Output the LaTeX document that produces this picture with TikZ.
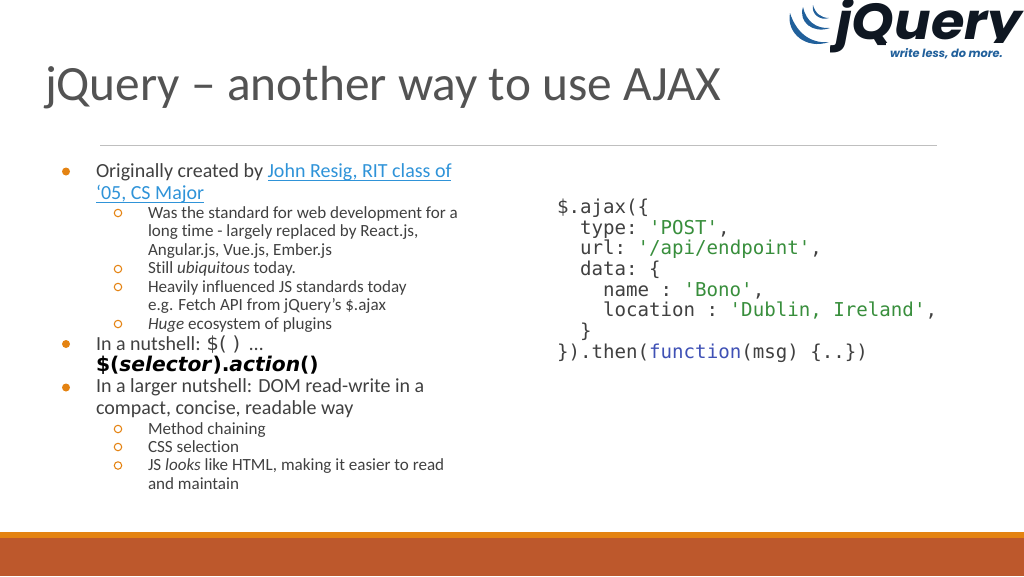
\documentclass[tikz,border=0pt]{standalone}
\usepackage{fontspec}
\setmainfont[Ligatures=NoCommon]{Carlito}
\setmonofont{DejaVu Sans Mono}
\newfontfamily\boldcode{DejaVu Sans}
\newfontfamily\logofont{Poppins}
\definecolor{accent}{HTML}{E48312}
\definecolor{footer}{HTML}{BD582C}
\definecolor{bodytext}{HTML}{404040}
\definecolor{linktext}{HTML}{2F93D8}
\definecolor{strgreen}{HTML}{388E3C}
\definecolor{keyblue}{HTML}{3F51B5}
\definecolor{logodark}{HTML}{0F1722}
\definecolor{logoblue}{HTML}{21609B}
\newcommand{\strval}[1]{\textcolor{strgreen}{#1}}
\tikzset{
    every node/.style={inner sep=0pt, outer sep=0pt, anchor=base west},
    toptext/.style={text=bodytext, font=\fontsize{15pt}{16pt}\selectfont},
    subtext/.style={text=bodytext, font=\fontsize{12.8pt}{14pt}\selectfont},
    codetext/.style={text=bodytext, font=\fontsize{14.35pt}{16pt}\ttfamily},
    topdot/.style={circle, fill=accent, minimum size=6pt, anchor=center},
    subdot/.style={circle, draw=accent, line width=0.8pt, minimum size=5.6pt, anchor=center}
}

\begin{document}
\begin{tikzpicture}[x=0.75pt,y=-0.75pt]
    \useasboundingbox (0,0) rectangle (1024,576);

    % footer bands
    \fill[footer] (0,538) rectangle (1024,576);
    \fill[accent] (0,532) rectangle (1024,538);

    % title and rule
    \node[text=bodytext!90, font=\fontsize{37pt}{40pt}\selectfont] (title) at (45,100) {jQuery – another way to use AJAX};
    \draw[color=black!25, line width=0.8pt] (100,145.5) -- (937,145.5);

    % logo
    \fill[logoblue] (790,13) .. controls (786,33) and (806,50) .. (829,42) .. controls (810,44) and (796,32) .. (790,13) -- cycle;
    \fill[logoblue] (803,7) .. controls (798,22) and (813,34) .. (830,28) .. controls (816,29) and (806,21) .. (803,7) -- cycle;
    \fill[logoblue] (813,5) .. controls (811,14) and (820,21) .. (829,18) .. controls (821,18) and (815,13) .. (813,5) -- cycle;
    \begin{scope}
        \clip (830,0) -- (1024,0) -- (1024,42) -- (885,42) -- (885,60) -- (830,60) -- cycle;
        \node[text=logodark, font=\fontsize{38pt}{40pt}\logofont\bfseries\itshape] (logo) at (836,39) {\scalebox{1.07}[1]{jQuery}};
    \end{scope}
    \node[text=logoblue, font=\fontsize{8.5pt}{9pt}\logofont\bfseries\itshape] (slogan) at (890,57) {write less, do more.};

    % left column, top level
    \node[toptext] (l1) at (96,177) {Originally created by \textcolor{linktext}{John Resig, RIT class of}};
    \node[toptext, text=linktext] (l2) at (96,199) {‘05, CS Major};
    \node[toptext] (l3) at (96,350) {In a nutshell: {\fontsize{14.5pt}{16pt}\boldcode\$( )}\ \ …};
    \node[text=black, font=\fontsize{15.2pt}{16pt}\boldcode\bfseries] (l4) at (96,371) {\$(\textit{selector}).\textit{action}()};
    \node[toptext] (l5) at (96,392) {In a larger nutshell: DOM read-write in a};
    \node[toptext] (l6) at (96,414) {compact, concise, readable way};

    % link underlines
    \draw[linktext, line width=0.7pt] (268,180) -- (451,180);
    \draw[linktext, line width=0.7pt] (96,202) -- (204,202);

    % left column, second level
    \node[subtext] (s1) at (148,218) {Was the standard for web development for a};
    \node[subtext] (s2) at (148,236.5) {long time - largely replaced by React.js,};
    \node[subtext] (s3) at (148,255) {Angular.js, Vue.js, Ember.js};
    \node[subtext] (s4) at (148,273.5) {Still \textit{ubiquitous} today.};
    \node[subtext] (s5) at (148,292) {Heavily influenced JS standards today};
    \node[subtext] (s6) at (148,310.5) {e.g. Fetch API from jQuery’s \$.ajax};
    \node[subtext] (s7) at (148,329) {\textit{Huge} ecosystem of plugins};
    \node[subtext] (s8) at (148,434) {Method chaining};
    \node[subtext] (s9) at (148,452) {CSS selection};
    \node[subtext] (s10) at (148,470.5) {JS \textit{looks} like HTML, making it easier to read};
    \node[subtext] (s11) at (148,489) {and maintain};

    % bullets
    \foreach \y [count=\i] in {171.5,344,387.5}
        \node[topdot] (dot\i) at (66,\y) {};
    \foreach \y [count=\i] in {213,269,287,324,429,447,465.5}
        \node[subdot] (ring\i) at (118,\y) {};

    % code
    \node[codetext] (c1) at (557,213) {\$.ajax(\{};
    \node[codetext] (c2) at (580,234) {type: \strval{'POST'},};
    \node[codetext] (c3) at (580,254) {url: \strval{'/api/endpoint'},};
    \node[codetext] (c4) at (580,275) {data: \{};
    \node[codetext] (c5) at (603,296) {name : \strval{'Bono'},};
    \node[codetext] (c6) at (603,316) {location : \strval{'Dublin, Ireland'},};
    \node[codetext] (c7) at (580,337) {\}};
    \node[codetext] (c8) at (557,358) {\}).then(\textcolor{keyblue}{function}(msg) \{..\})};
\end{tikzpicture}
\end{document}
